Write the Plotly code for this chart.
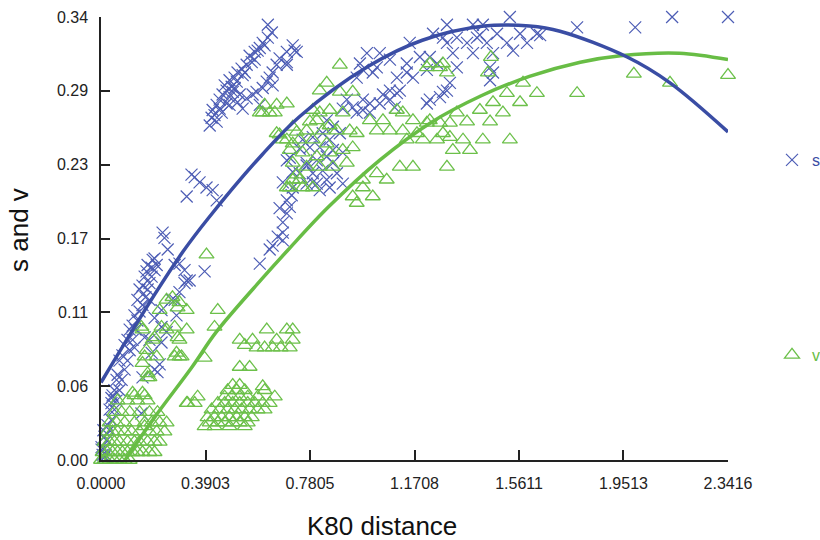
import plotly.graph_objects as go

# ---------------- data ----------------
x_tick_vals = [0.0, 0.3903, 0.7805, 1.1708, 1.5611, 1.9513, 2.3416]
x_tick_text = ["0.0000", "0.3903", "0.7805", "1.1708", "1.5611", "1.9513", "2.3416"]
y_max = 0.343
y_tick_vals = [0.0, 0.0572, 0.1143, 0.1715, 0.2287, 0.2858, 0.343]
y_tick_text = ["0.00", "0.06", "0.11", "0.17", "0.23", "0.29", "0.34"]

# transitions (s)
s_pts = [
    (0.006,0.004),(0.013,0.009),(0.021,0.015),(0.032,0.023),(0.039,0.031),(0.050,0.039),(0.058,0.046),
    (0.069,0.054),(0.077,0.062),(0.088,0.070),(0.099,0.077),(0.107,0.085),(0.118,0.093),(0.129,0.101),
    (0.136,0.108),(0.144,0.115),(0.155,0.120),(0.166,0.126),(0.174,0.132),(0.181,0.137),(0.189,0.142),
    (0.200,0.147),(0.208,0.151),(0.193,0.155),(0.163,0.142),(0.174,0.151),(0.144,0.132),(0.181,0.124),
    (0.125,0.112),(0.107,0.101),(0.088,0.089),(0.069,0.077),(0.062,0.066),(0.043,0.050),(0.032,0.039),
    (0.024,0.027),(0.009,0.023),(0.017,0.004),(0.002,0.008),(0.155,0.135),(0.136,0.124),(0.118,0.104),
    (0.099,0.093),(0.080,0.081),(0.058,0.062),(0.039,0.048),(0.170,0.146),(0.189,0.149),(0.200,0.156),
    (0.237,0.172),(0.230,0.176),(0.249,0.163),(0.312,0.147),(0.331,0.139),(0.275,0.151),(0.387,0.146),
    (0.275,0.124),(0.312,0.137),(0.293,0.130),(0.264,0.124),(0.226,0.116),(0.282,0.112),(0.200,0.110),
    (0.226,0.103),(0.245,0.099),(0.181,0.093),(0.163,0.095),(0.226,0.091),(0.125,0.087),(0.189,0.083),
    (0.219,0.074),(0.211,0.068),(0.155,0.064),(0.293,0.152),(0.320,0.139),(0.151,0.036),(0.200,0.070),
    (0.002,0.010),(0.013,0.018),(0.013,0.002),(0.039,0.044),(0.050,0.054),
    (0.623,0.337),(0.638,0.331),(0.623,0.327),(0.604,0.323),(0.593,0.319),(0.574,0.316),(0.555,0.313),
    (0.563,0.308),(0.544,0.306),(0.525,0.303),(0.510,0.300),(0.529,0.298),(0.499,0.296),(0.480,0.294),
    (0.507,0.293),(0.488,0.289),(0.469,0.286),(0.454,0.283),(0.480,0.281),(0.443,0.279),(0.469,0.276),
    (0.432,0.275),(0.417,0.271),(0.451,0.269),(0.413,0.265),(0.432,0.262),(0.406,0.259),(0.492,0.285),
    (0.518,0.283),(0.544,0.280),(0.510,0.277),(0.529,0.272),(0.462,0.290),(0.499,0.288),(0.537,0.300),
    (0.574,0.310),(0.585,0.317),(0.611,0.321),(0.443,0.272),(0.424,0.267),(0.480,0.275),
    (0.716,0.321),(0.731,0.316),(0.694,0.316),(0.667,0.311),(0.694,0.308),(0.656,0.306),(0.641,0.300),
    (0.630,0.296),(0.619,0.293),(0.641,0.290),(0.604,0.288),(0.581,0.285),(0.566,0.283),(0.593,0.275),
    (0.350,0.219),(0.368,0.215),(0.394,0.211),(0.417,0.209),(0.320,0.204),(0.432,0.201),(0.338,0.221),
    (0.593,0.152),(0.630,0.163),(0.641,0.166),(0.660,0.173),(0.679,0.176),(0.679,0.184),(0.694,0.191),
    (0.705,0.196),(0.694,0.201),(0.712,0.205),(0.667,0.195),(0.679,0.215),(0.716,0.223),(0.705,0.234),
    (0.742,0.241),(0.768,0.228),(0.791,0.215),(0.694,0.232),(0.679,0.170),
    (0.723,0.317),(0.694,0.306),(0.993,0.315),(1.041,0.315),(1.079,0.310),(0.978,0.302),(1.015,0.300),
    (0.955,0.296),(1.079,0.286),(1.053,0.283),(1.105,0.284),(1.079,0.279),(1.041,0.276),(1.097,0.273),
    (0.978,0.279),(1.004,0.276),(0.940,0.273),(0.978,0.271),(0.955,0.269),(1.004,0.269),(0.918,0.279),
    (0.903,0.272),(1.142,0.300),(1.165,0.296),(1.228,0.279),(1.277,0.285),(1.303,0.292),
    (0.843,0.263),(0.866,0.258),(0.892,0.253),(0.828,0.253),(0.791,0.250),(0.854,0.248),(0.817,0.242),
    (0.780,0.242),(0.753,0.248),(0.866,0.240),(0.903,0.238),(0.843,0.235),(0.806,0.232),(0.768,0.230),
    (0.866,0.230),(0.828,0.224),(0.791,0.222),(0.742,0.222),(0.881,0.222),(0.843,0.217),(0.806,0.214),
    (0.768,0.214),(0.716,0.211),(0.854,0.211),(0.817,0.209),(0.903,0.214),
    (1.292,0.337),(1.389,0.337),(1.426,0.337),(1.527,0.343),(1.778,0.335),(1.995,0.335),(2.133,0.343),
    (2.3416,0.343),(1.240,0.330),(1.329,0.327),(1.415,0.329),(1.479,0.330),(1.565,0.330),(1.640,0.329),
    (1.367,0.323),(1.441,0.323),(1.516,0.323),(1.591,0.323),(1.292,0.323),(1.314,0.315),(1.389,0.315),
    (1.464,0.315),(1.539,0.317),(1.191,0.312),(1.142,0.307),(1.255,0.307),(1.329,0.304),(1.217,0.302),
    (1.105,0.296),(1.030,0.304),(0.967,0.307),(1.292,0.286),(1.266,0.281),(1.217,0.276),(1.464,0.300),
    (1.453,0.294),(1.153,0.323),(1.277,0.327),(1.404,0.327),(1.628,0.330),(1.228,0.312),(1.453,0.304),
    (1.116,0.286),
]

# transversions (v)
v_pts = [
    (0.000,0.0),(0.013,0.0),(0.032,0.0),(0.050,0.0),(0.069,0.0),(0.088,0.0),(0.107,0.0),
    (0.006,0.006),(0.024,0.006),(0.043,0.006),(0.062,0.006),(0.080,0.006),(0.099,0.006),(0.118,0.006),
    (0.136,0.006),(0.155,0.006),(0.181,0.006),(0.200,0.006),
    (0.013,0.014),(0.032,0.014),(0.050,0.014),(0.069,0.014),(0.099,0.014),(0.125,0.014),(0.144,0.014),
    (0.174,0.014),(0.200,0.014),(0.219,0.014),
    (0.024,0.022),(0.043,0.022),(0.062,0.022),(0.088,0.022),(0.114,0.022),(0.144,0.022),(0.181,0.022),
    (0.208,0.022),(0.237,0.022),
    (0.032,0.029),(0.058,0.029),(0.088,0.029),(0.125,0.029),(0.163,0.029),(0.189,0.029),(0.219,0.029),
    (0.245,0.029),
    (0.050,0.037),(0.077,0.037),(0.107,0.037),(0.144,0.037),(0.181,0.037),(0.211,0.037),
    (0.062,0.046),(0.099,0.046),(0.136,0.046),(0.174,0.046),
    (0.125,0.050),(0.163,0.050),(0.174,0.064),(0.163,0.026),(0.323,0.044),(0.361,0.049),(0.350,0.044),
    (0.492,0.058),(0.518,0.058),
    (0.473,0.054),(0.507,0.054),(0.537,0.054),(0.611,0.054),
    (0.462,0.049),(0.488,0.049),(0.518,0.049),(0.548,0.049),(0.585,0.049),(0.649,0.049),
    (0.436,0.044),(0.462,0.044),(0.492,0.044),(0.518,0.044),(0.548,0.044),(0.574,0.044),(0.604,0.044),
    (0.630,0.044),
    (0.413,0.039),(0.443,0.039),(0.473,0.039),(0.499,0.039),(0.525,0.039),(0.555,0.039),(0.585,0.039),
    (0.611,0.039),
    (0.398,0.033),(0.424,0.033),(0.451,0.033),(0.480,0.033),(0.507,0.033),(0.537,0.033),(0.563,0.033),
    (0.406,0.029),(0.436,0.029),(0.462,0.029),(0.492,0.029),(0.518,0.029),(0.548,0.029),
    (0.387,0.026),(0.424,0.026),(0.480,0.026),(0.537,0.026),
    (0.604,0.057),(0.320,0.044),
    (0.436,0.116),(0.387,0.079),(0.518,0.072),(0.555,0.072),(0.394,0.159),
    (0.566,0.093),(0.619,0.101),(0.656,0.093),(0.694,0.101),(0.716,0.101),(0.581,0.087),(0.611,0.087),
    (0.641,0.087),(0.671,0.087),(0.705,0.087),(0.716,0.093),(0.537,0.089),(0.518,0.093),
    (0.245,0.124),(0.267,0.126),(0.293,0.122),(0.320,0.116),(0.219,0.116),(0.245,0.101),(0.155,0.101),
    (0.193,0.093),(0.293,0.093),(0.320,0.101),(0.170,0.085),(0.208,0.080),(0.282,0.083),(0.293,0.080),
    (0.155,0.075),(0.181,0.064),(0.118,0.052),(0.155,0.052),(0.286,0.118),(0.151,0.103),(0.226,0.103),
    (0.275,0.103),(0.286,0.095),(0.200,0.095),(0.163,0.080),(0.275,0.080),(0.301,0.080),(0.424,0.103),
    (0.174,0.067),
    (0.604,0.269),(0.630,0.269),(0.656,0.275),(0.694,0.276),(0.611,0.275),(0.593,0.269),(0.649,0.269),
    (0.656,0.253),(0.679,0.248),(0.716,0.245),(0.694,0.211),(0.716,0.217),
    (0.892,0.306),(0.843,0.292),(0.892,0.285),(0.940,0.285),(0.817,0.286),(0.791,0.271),(0.854,0.271),
    (0.903,0.269),(0.806,0.263),(0.716,0.258),(0.768,0.255),(0.828,0.255),(0.881,0.255),(0.929,0.255),
    (0.955,0.253),(1.004,0.263),(1.053,0.263),(1.105,0.271),(1.030,0.255),(1.079,0.255),(1.127,0.255),
    (1.165,0.263),(1.217,0.261),(1.266,0.261),(1.180,0.253),(1.142,0.248),(1.202,0.248),(1.255,0.248),
    (1.303,0.250),(1.314,0.240),(1.266,0.304),(1.217,0.304),(1.292,0.300),
    (0.694,0.248),(0.742,0.248),(0.791,0.248),(0.843,0.245),(0.705,0.240),(0.753,0.238),(0.806,0.235),
    (0.854,0.238),(0.903,0.240),(0.940,0.242),(0.716,0.230),(0.768,0.227),(0.817,0.227),(0.866,0.227),
    (0.918,0.230),(0.705,0.211),(0.753,0.211),(0.791,0.211),(0.742,0.217),(0.978,0.217),(1.030,0.222),
    (1.067,0.217),(1.116,0.227),(1.165,0.227),(1.292,0.227),(0.940,0.204),(1.015,0.204),(0.955,0.199),
    (0.978,0.211),(0.731,0.254),(0.817,0.269),(0.667,0.252),(0.780,0.262),(0.854,0.259),(0.731,0.221),
    (1.228,0.307),(1.277,0.307),(1.456,0.312),(1.445,0.300),(1.576,0.292),(1.628,0.284),(1.778,0.284),
    (1.516,0.284),(1.464,0.277),(1.565,0.277),(1.501,0.269),(1.415,0.271),(1.453,0.262),(1.367,0.262),
    (1.329,0.269),(1.303,0.261),(1.228,0.263),(1.127,0.269),(1.277,0.253),(1.352,0.248),(1.426,0.248),
    (1.527,0.248),(1.378,0.240),(1.990,0.299),(2.125,0.292),(2.3416,0.298),
]

# fitted curves
s_fit_x = [0.0, 0.2, 0.305, 0.4, 0.6, 0.742, 1.0, 1.2, 1.43, 1.6, 1.714, 1.965, 2.125, 2.3416]
s_fit_y = [0.060, 0.128, 0.161, 0.187, 0.236, 0.266, 0.305, 0.325, 0.336, 0.336, 0.332, 0.312, 0.292, 0.254]
v_fit_x = [0.09, 0.2, 0.34, 0.43, 0.6, 0.7, 0.85, 1.04, 1.23, 1.42, 1.6, 1.79, 1.94, 2.16, 2.3416]
v_fit_y = [0.0, 0.033, 0.072, 0.099, 0.140, 0.163, 0.196, 0.232, 0.261, 0.282, 0.297, 0.308, 0.313, 0.315, 0.310]

# ---------------- figure ----------------
BLUE_M = "#4d5db5"
BLUE_L = "#3a4da4"
GREEN_M = "#6cc04a"
GREEN_L = "#68bd45"
FONT = "Liberation Sans, Arial, sans-serif"

s_x = [p[0] for p in s_pts]
s_y = [p[1] for p in s_pts]
v_x = [p[0] for p in v_pts]
v_y = [p[1] for p in v_pts]

fig = go.Figure()
fig.add_trace(go.Scatter(
    x=s_x, y=s_y, mode="markers", name="s", legend="legend",
    marker=dict(symbol="x-thin", size=12, line=dict(color=BLUE_M, width=1.2), color=BLUE_M),
    cliponaxis=False,
))
fig.add_trace(go.Scatter(
    x=v_x, y=v_y, mode="markers", name="v", legend="legend2",
    marker=dict(symbol="triangle-up-open", size=13, color=GREEN_M, line=dict(color=GREEN_M, width=1.3)),
    cliponaxis=False,
))
fig.add_trace(go.Scatter(
    x=v_fit_x, y=v_fit_y, mode="lines", showlegend=False,
    line=dict(color=GREEN_L, width=3.5, shape="spline", smoothing=1.0),
))
fig.add_trace(go.Scatter(
    x=s_fit_x, y=s_fit_y, mode="lines", showlegend=False,
    line=dict(color=BLUE_L, width=3.5, shape="spline", smoothing=1.0),
))

L, R, T, B = 101, 92, 17, 80
PW = 820 - L - R
PH = 540 - T - B

def px_x(p):
    return (p - L) / PW

def px_y(p):
    return (540 - B - p) / PH

fig.update_layout(
    width=820, height=540,
    margin=dict(l=L, r=R, t=T, b=B, pad=0, autoexpand=False),
    paper_bgcolor="white", plot_bgcolor="white",
    font=dict(family=FONT, color="#222222", size=16),
    xaxis=dict(
        range=[0, 2.3416], tickvals=x_tick_vals, ticktext=x_tick_text,
        showgrid=False, zeroline=False, showline=True, linecolor="#222222", linewidth=1.5,
        ticks="inside", ticklen=10, tickwidth=1.5, tickcolor="#222222",
        tickfont=dict(family=FONT, size=16, color="#222222"), ticklabelstandoff=8,
    ),
    yaxis=dict(
        range=[0, y_max], tickvals=y_tick_vals, ticktext=y_tick_text,
        showgrid=False, zeroline=False, showline=True, linecolor="#222222", linewidth=1.5,
        ticks="inside", ticklen=9, tickwidth=1.5, tickcolor="#222222",
        tickfont=dict(family=FONT, size=16, color="#222222"), ticklabelstandoff=8,
    ),
    legend=dict(x=px_x(772), y=px_y(160), xanchor="left", yanchor="middle",
                bgcolor="rgba(0,0,0,0)", font=dict(family=FONT, size=16, color=BLUE_L)),
    legend2=dict(x=px_x(772), y=px_y(355), xanchor="left", yanchor="middle",
                 bgcolor="rgba(0,0,0,0)", font=dict(family=FONT, size=16, color=GREEN_L)),
    annotations=[
        dict(text="K80 distance", x=px_x(382), y=px_y(526), xref="paper", yref="paper",
             showarrow=False, xanchor="center", yanchor="middle",
             font=dict(family=FONT, size=26, color="#111111")),
        dict(text="s and v", x=px_x(19), y=px_y(230), xref="paper", yref="paper",
             showarrow=False, xanchor="center", yanchor="middle", textangle=-90,
             font=dict(family=FONT, size=26, color="#111111")),
    ],
)

fig.write_html("out.html")
